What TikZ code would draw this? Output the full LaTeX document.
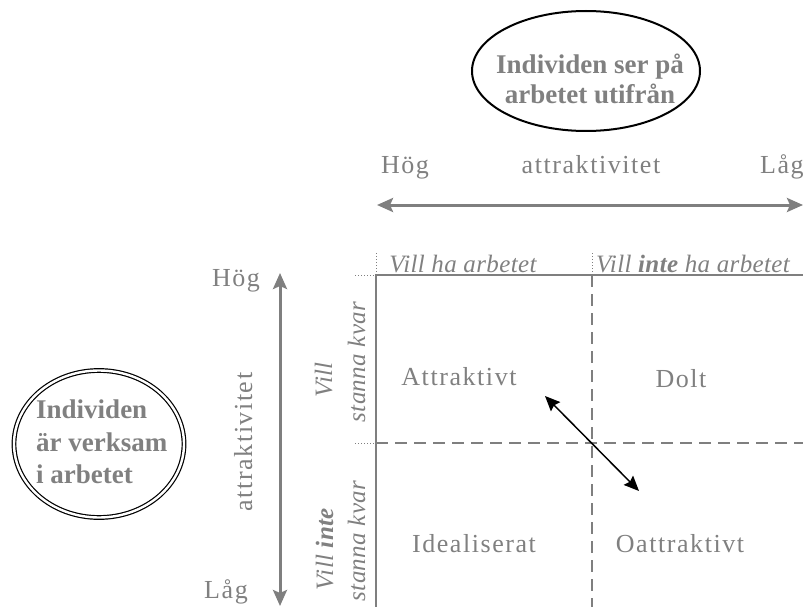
\documentclass[tikz,border=0pt]{standalone}
\usepackage{fontspec}
\setmainfont{Liberation Serif}
\newfontfamily\spacedfont{Liberation Serif}[LetterSpace=6]
\newfontfamily\italfont{Liberation Serif}[LetterSpace=1.5]
\usetikzlibrary{arrows.meta,shapes.geometric}
\definecolor{txtgray}{HTML}{808080}
\definecolor{linegray}{HTML}{7F7F7F}

\begin{document}
\begin{tikzpicture}[x=1pt,y=-1pt,
  lbl/.style={text=txtgray, font=\spacedfont\fontsize{26}{30}\selectfont, inner sep=0pt},
  ilbl/.style={text=txtgray, font=\italfont\itshape\fontsize{25}{29}\selectfont, inner sep=0pt},
  blbl/.style={text=txtgray, font=\bfseries\fontsize{27}{30}\selectfont, inner sep=0pt},
  axis/.style={draw=linegray, line width=3pt,
    {Stealth[length=16pt,width=14pt,inset=3pt]}-{Stealth[length=16pt,width=14pt,inset=3pt]}},
  shiftarrow/.style={draw=black, line width=1.5pt,
    {Stealth[length=15pt,width=13pt,inset=2pt]}-{Stealth[length=15pt,width=13pt,inset=2pt]}},
  solidgrid/.style={draw=linegray, line width=2pt},
  dashgrid/.style={draw=linegray, line width=2pt, dash pattern=on 12pt off 7pt},
  dotgrid/.style={draw=linegray, line width=1pt, dash pattern=on 1pt off 2pt},
  oval/.style={ellipse, draw=black, inner sep=0pt}
]
\useasboundingbox (0,0) rectangle (803,607);

% Outside view: the person looking at the job from outside
\node[oval, line width=2pt, minimum width=228pt, minimum height=120pt] (viewoval) at (586,71) {};
\node[blbl, align=center, anchor=north] (viewtext) at (590,53.5) {Individen ser på\\arbetet utifrån};

% Inside view: the person working in the job
\node[oval, line width=1.2pt, double, double distance=2.4pt,
      minimum width=170pt, minimum height=147pt] (workoval) at (99,444) {};
\node[blbl, font=\bfseries\fontsize{27}{32.5}\selectfont, align=left, anchor=north west]
  (worktext) at (36,400) {Individen\\är verksam\\i arbetet};

% Horizontal attractiveness axis
\node[lbl, anchor=base] (tophigh) at (405,173) {Hög};
\node[lbl, anchor=base] (topattr) at (591,173) {attraktivitet};
\node[lbl, anchor=base west] (toplow) at (760,173) {Låg};
\coordinate (haL) at (377,205);
\coordinate (haR) at (803,205);
\draw[axis] (haL) -- (haR);

% Vertical attractiveness axis
\node[lbl, anchor=base] (sidehigh) at (236,286) {Hög};
\node[lbl, anchor=base] (sidelow) at (226,598) {Låg};
\node[lbl, rotate=90, anchor=base] (sideattr) at (252,442) {attraktivitet};
\coordinate (vaT) at (280,273);
\coordinate (vaB) at (280,606);
\draw[axis] (vaT) -- (vaB);

% Column headings
\node[ilbl, anchor=base] (colwant) at (463,272) {Vill ha arbetet};
\node[ilbl, anchor=base] (colnot) at (693,272) {Vill \textbf{inte} ha arbetet};

% Row headings
\node[ilbl, rotate=90, anchor=base] (rowstay) at (332,380) {Vill};
\node[ilbl, rotate=90, anchor=base] (rowstaysub) at (365,362) {stanna kvar};
\node[ilbl, rotate=90, anchor=base] (rowleave) at (333,549) {Vill \textbf{inte}};
\node[ilbl, rotate=90, anchor=base] (rowleavesub) at (365,541) {stanna kvar};

% Grid
\coordinate (corner) at (376,275);
\coordinate (topend) at (803,275);
\coordinate (leftend) at (376,607);
\coordinate (midtop) at (592,275);
\coordinate (midbot) at (592,607);
\coordinate (midleft) at (376,443);
\coordinate (midright) at (803,443);
\coordinate (dotA) at (355,275);
\coordinate (dotB) at (355,443);
\coordinate (dotC) at (376,253);
\coordinate (dotD) at (592,253);

\draw[dotgrid] (dotA) -- (corner);
\draw[dotgrid] (dotB) -- (midleft);
\draw[dotgrid] (dotC) -- (corner);
\draw[dotgrid] (dotD) -- (midtop);
\draw[solidgrid] (leftend) -- (corner) -- (topend);
\draw[dashgrid] (midtop) -- (midbot);
\draw[dashgrid] (midleft) -- (midright);

% Quadrants
\node[lbl, anchor=base] (qattr) at (459,385) {Attraktivt};
\node[lbl, anchor=base] (qhidden) at (681,387) {Dolt};
\node[lbl, anchor=base] (qideal) at (474,552) {Idealiserat};
\node[lbl, anchor=base] (qunattr) at (680,552) {Oattraktivt};

% Movement between attractive and unattractive
\coordinate (moveA) at (545,396);
\coordinate (moveB) at (639,491);
\draw[shiftarrow] (moveA) -- (moveB);
\end{tikzpicture}
\end{document}
